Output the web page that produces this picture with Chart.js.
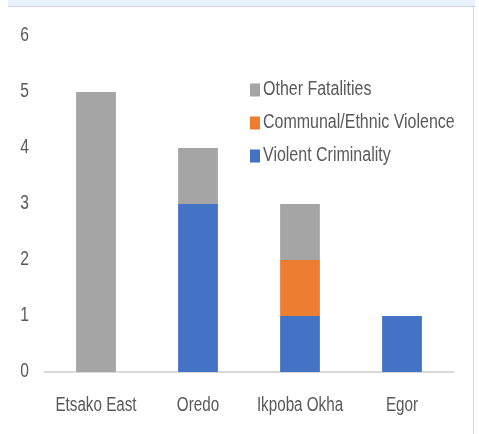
<!DOCTYPE html>
<html>
<head>
<meta charset="utf-8">
<script src="https://cdn.jsdelivr.net/npm/chart.js@4/dist/chart.umd.min.js"></script>
<style>
  html, body { margin: 0; padding: 0; background: #fff; }
  #wrap { width: 479px; height: 434px; position: relative; }
</style>
</head>
<body>
<div id="wrap"><canvas id="chart" width="479" height="434"></canvas></div>
<script>
const categories = ["Etsako East", "Oredo", "Ikpoba Okha", "Egor"];
const violentCriminality = [0, 3, 1, 1];
const communalViolence = [0, 0, 1, 0];
const otherFatalities = [5, 1, 1, 0];
const yTicks = [0, 1, 2, 3, 4, 5, 6];

const FONT = "'Liberation Sans', Arial, sans-serif";
const TEXT = "#595959";

// reference text is tall and narrow, so squeeze it horizontally
function narrowText(ctx, text, x, y, align, size, squeeze) {
  ctx.save();
  ctx.font = size + "px " + FONT;
  ctx.fillStyle = TEXT;
  ctx.textAlign = align;
  ctx.textBaseline = "middle";
  ctx.translate(x, y);
  ctx.scale(squeeze, 1);
  ctx.fillText(text, 0, 0);
  ctx.restore();
}

// frame: light blue band on top and thin grey edge on the right
const framePlugin = {
  id: "frame",
  beforeDraw(chart) {
    const ctx = chart.ctx;
    ctx.save();
    ctx.fillStyle = "#e9f2fc";
    ctx.fillRect(8, 0, 467, 6);
    ctx.fillStyle = "#d0d4d9";
    ctx.fillRect(8, 6, 467, 1);
    ctx.fillStyle = "#d6d6d6";
    ctx.fillRect(473, 7, 1, 427);
    ctx.restore();
  },
};

// axis labels and legend
const textPlugin = {
  id: "narrowText",
  afterDraw(chart) {
    const ctx = chart.ctx;
    const xs = chart.scales.x;
    const ys = chart.scales.y;
    categories.forEach((c, i) => {
      narrowText(ctx, c, xs.getPixelForTick(i), 406, "center", 19.5, 0.78);
    });
    yTicks.forEach((v) => {
      narrowText(ctx, String(v), 29, ys.getPixelForValue(v), "right", 19.5, 0.8);
    });
    const items = chart.data.datasets.slice().reverse();
    items.forEach((ds, i) => {
      const y = 89.5 + i * 33;
      ctx.fillStyle = ds.backgroundColor;
      ctx.fillRect(250, y - 6, 10, 13);
      narrowText(ctx, ds.label, 263, y, "left", 19.5, 0.82);
    });
  },
};

new Chart(document.getElementById("chart"), {
  type: "bar",
  data: {
    labels: categories,
    datasets: [
      { label: "Violent Criminality", data: violentCriminality, backgroundColor: "#4472C4" },
      { label: "Communal/Ethnic Violence", data: communalViolence, backgroundColor: "#ED7D31" },
      { label: "Other Fatalities", data: otherFatalities, backgroundColor: "#A5A5A5" },
    ],
  },
  options: {
    responsive: false,
    animation: false,
    layout: { padding: { top: 36, right: 26, bottom: 0, left: 0 } },
    datasets: { bar: { barPercentage: 0.39, categoryPercentage: 1 } },
    plugins: {
      legend: { display: false },
      tooltip: { enabled: false },
    },
    scales: {
      x: {
        stacked: true,
        grid: { display: false, drawTicks: false },
        border: { display: true, color: "#d9d9d9", width: 2 },
        ticks: { display: false },
        afterFit(scale) { scale.height = 62; },
      },
      y: {
        stacked: true,
        min: 0,
        max: 6,
        afterBuildTicks(scale) { scale.ticks = yTicks.map((v) => ({ value: v })); },
        grid: { display: false, drawTicks: false },
        border: { display: false },
        ticks: { display: false },
        afterFit(scale) { scale.width = 45; },
      },
    },
  },
  plugins: [framePlugin, textPlugin],
});
</script>
</body>
</html>
